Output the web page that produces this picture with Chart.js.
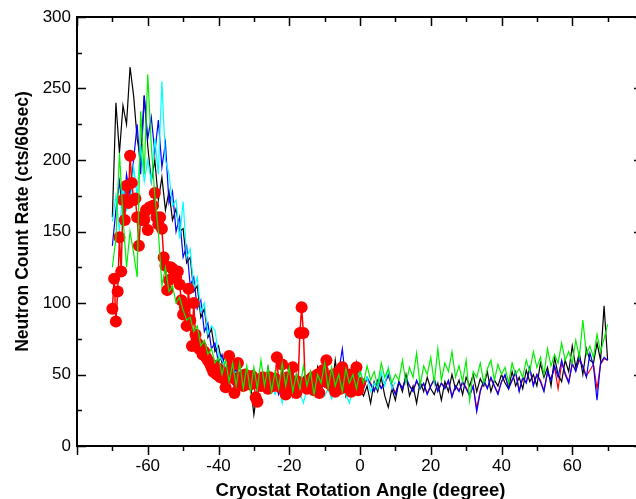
<!DOCTYPE html>
<html>
<head>
<meta charset="utf-8">
<script src="https://cdn.jsdelivr.net/npm/chart.js@4.4.1/dist/chart.umd.min.js"></script>
<style>
  html, body { margin: 0; padding: 0; background: #fff; overflow: hidden; }
  canvas { display: block; }
</style>
</head>
<body>
<canvas id="scan" width="660" height="499"></canvas>
<script>
// Angle grids (degree)
const angles = Array.from({ length: 141 }, (_, i) => i - 70);      // -70 .. 70
const cyanAngles = angles.slice(0, 81);                             // -70 .. 10
const redAngles = Array.from({ length: 141 }, (_, i) => -70 + i * 0.5); // -70 .. 0
const redTailAngles = angles.slice(71);                             // 1 .. 70

const xTicks = [-60, -40, -20, 0, 20, 40, 60];
const yTicks = [0, 50, 100, 150, 200, 250, 300];

// Count rates (cts/60sec)
const blackCounts = [
  160, 240, 205, 238, 225, 265, 245, 215, 200, 245,
  210, 185, 200, 172, 188, 165, 178, 158, 166, 150,
  152, 128, 132, 108, 112, 90, 96, 76, 82, 66,
  70, 58, 64, 54, 60, 48, 56, 46, 52, 44,
  22, 40, 45, 38, 55, 42, 48, 38, 52, 40,
  47, 35, 50, 42, 48, 38, 45, 40, 55, 42,
  50, 45, 38, 60, 42, 50, 35, 45, 40, 58,
  40, 35, 42, 30, 45, 38, 48, 35, 27, 40,
  32, 45, 38, 50, 35, 42, 30, 45, 38, 48,
  40, 36, 44, 32, 45, 38, 50, 40, 46, 36,
  48, 42, 50, 38, 47, 42, 52, 38, 46, 42,
  50, 44, 40, 52, 42, 48, 40, 53, 45, 50,
  42, 58, 48, 55, 42, 62, 50, 45, 60, 52,
  70, 55, 65, 50, 68, 60, 58, 72, 60, 98,
  60
];

const blueCounts = [
  140, 165, 185, 160, 190, 175, 200, 225, 190, 245,
  215, 230, 205, 228, 195, 212, 170, 178, 150, 160,
  132, 140, 112, 118, 96, 102, 80, 86, 68, 72,
  58, 64, 52, 58, 48, 54, 44, 50, 42, 48,
  45, 40, 47, 38, 44, 40, 46, 36, 42, 48,
  38, 44, 40, 46, 38, 43, 50, 40, 45, 38,
  47, 42, 50, 44, 52, 68, 45, 50, 42, 48,
  45, 40, 48, 43, 38, 46, 40, 44, 50, 42,
  36, 45, 40, 48, 42, 38, 46, 40, 44, 36,
  42, 47, 38, 44, 40, 46, 34, 42, 38, 45,
  40, 35, 42, 24, 38, 46, 40, 48, 42, 36,
  45, 50, 40, 46, 52, 38, 48, 44, 55, 42,
  50, 45, 38, 52, 46, 56, 48, 60, 50, 44,
  58, 52, 62, 55, 48, 65, 56, 32, 58, 62,
  60
];

const cyanCounts = [
  157, 175, 150, 180, 165, 170, 195, 175, 210, 185,
  200, 185, 215, 190, 255, 200, 190, 168, 172, 145,
  171, 132, 138, 110, 118, 94, 100, 78, 84, 81,
  64, 60, 55, 58, 50, 52, 46, 50, 44, 48,
  42, 46, 40, 44, 38, 42, 36, 44, 30, 40,
  45, 35, 42, 38, 30, 40, 36, 44, 38, 42,
  35, 40, 33, 44, 38, 42, 36, 30, 40, 46,
  55, 42, 48, 38, 44, 40, 52, 42, 55, 40, 45
];

const greenCounts = [
  125, 145, 205, 160, 125, 150, 135, 118, 234, 190,
  260, 210, 175, 150, 112, 125, 108, 112, 100, 104,
  95, 88, 90, 80, 84, 70, 74, 64, 68, 58,
  62, 50, 60, 45, 58, 42, 58, 40, 56, 38,
  55, 40, 60, 42, 55, 38, 52, 40, 58, 42,
  55, 38, 50, 40, 56, 42, 52, 36, 50, 44,
  58, 40, 55, 42, 50, 38, 54, 44, 50, 40,
  52, 44, 56, 46, 52, 42, 58, 48, 54, 44,
  50, 46, 60, 44, 55, 48, 65, 42, 56, 50,
  62, 44, 68, 46, 58, 52, 66, 48, 56, 45,
  60, 32, 52, 48, 58, 44, 54, 60, 46, 57,
  50, 55, 44, 58, 50, 54, 48, 60, 52, 66,
  55, 62, 50, 68, 56, 64, 58, 72, 60, 66,
  58, 74, 62, 88, 64, 70, 62, 78, 66, 75,
  85
];

const redCounts = [
  96, 117, 87, 108, 146, 122, 172, 158, 182, 170,
  203, 184, 172, 173, 160, 140, 160, 158, 158, 165,
  151, 167, 166, 168, 177, 160, 155, 160, 152, 132,
  126, 109, 116, 125, 124, 119, 118, 122, 113, 102,
  92, 97, 84, 110, 88, 70, 100, 78, 72, 68,
  70, 64, 66, 62, 60, 58, 55, 52, 56, 50,
  54, 48, 52, 47, 41, 50, 63, 48, 57, 37,
  46, 58, 44, 48, 42, 50, 45, 47, 43, 49,
  44, 34, 31, 46, 42, 48, 44, 46, 40, 48,
  44, 42, 47, 62, 45, 41, 57, 44, 36, 48,
  42, 46, 55, 40, 37, 45, 79, 97, 79, 44,
  40, 46, 42, 48, 39, 44, 50, 37, 45, 53,
  48, 60, 44, 46, 42, 50, 38, 45, 52, 40,
  55, 41, 47, 43, 50, 38, 46, 42, 55, 39,
  44
];

const redTailCounts = [
  41, 47, 44, 39, 45, 41, 44, 49, 43, 37,
  44, 41, 47, 42, 39, 45, 41, 43, 37, 42,
  46, 39, 44, 41, 45, 35, 42, 39, 44, 41,
  36, 42, 26, 39, 45, 41, 47, 42, 37, 45,
  49, 41, 46, 51, 39, 47, 45, 54, 43, 50,
  46, 39, 51, 47, 55, 40, 58, 51, 45, 57,
  53, 60, 56, 49, 53, 57, 40, 57, 61, 60
];

const toPoints = (xs, ys) => xs.map((x, i) => ({ x: x, y: ys[i] }));

const FONT = '"Liberation Sans", Arial, Helvetica, sans-serif';
Chart.defaults.font.family = FONT;
Chart.defaults.color = '#000';

function lineSet(data, color, order, width) {
  return {
    data: data,
    borderColor: color,
    borderWidth: width || 1.2,
    pointRadius: 0,
    tension: 0,
    fill: false,
    order: order
  };
}

// Box, inward/outward tick marks and axis titles
const framePlugin = {
  id: 'frame',
  afterDatasetsDraw(chart) {
    const { ctx, chartArea: a, scales: { x, y } } = chart;
    ctx.save();
    ctx.strokeStyle = '#000';
    ctx.lineWidth = 2;
    ctx.strokeRect(a.left, a.top, a.right - a.left, a.bottom - a.top);
    ctx.lineWidth = 1.5;
    ctx.beginPath();
    for (let v = -80; v <= 80; v += 10) {
      const px = Math.round(x.getPixelForValue(v)) + 0.5;
      const len = v % 20 === 0 ? 9 : 5;
      ctx.moveTo(px, a.bottom); ctx.lineTo(px, a.bottom + len);
      ctx.moveTo(px, a.top); ctx.lineTo(px, a.top + len);
    }
    for (let v = 0; v <= 300; v += 25) {
      const py = Math.round(y.getPixelForValue(v)) + 0.5;
      const len = v % 50 === 0 ? 9 : 5;
      ctx.moveTo(a.left, py); ctx.lineTo(a.left + len, py);
      ctx.moveTo(a.right, py); ctx.lineTo(a.right - len, py);
    }
    ctx.stroke();

    ctx.fillStyle = '#000';
    ctx.textAlign = 'center';
    ctx.textBaseline = 'alphabetic';
    ctx.font = 'bold 18.5px ' + FONT;
    ctx.fillText('Cryostat Rotation Angle (degree)', 360.5, 495.5);
    ctx.translate(28, 221.5);
    ctx.rotate(-Math.PI / 2);
    ctx.font = 'bold 17.5px ' + FONT;
    ctx.fillText('Neutron Count Rate (cts/60sec)', 0, 0);
    ctx.restore();
  }
};

new Chart(document.getElementById('scan'), {
  type: 'line',
  data: {
    datasets: [
      lineSet(toPoints(redTailAngles, redTailCounts), '#ff0000', 5),
      lineSet(toPoints(angles, blackCounts), '#000000', 4),
      lineSet(toPoints(angles, blueCounts), '#0000ff', 3),
      lineSet(toPoints(cyanAngles, cyanCounts), '#00ffff', 2),
      {
        data: toPoints(redAngles, redCounts),
        borderColor: '#ff0000',
        borderWidth: 1.5,
        pointRadius: 6,
        pointBorderWidth: 0,
        pointBackgroundColor: '#ff0000',
        pointBorderColor: '#ff0000',
        tension: 0,
        fill: false,
        order: 1
      },
      lineSet(toPoints(angles, greenCounts), '#00ee00', 0)
    ]
  },
  options: {
    responsive: false,
    animation: false,
    events: [],
    layout: { padding: { top: 17, right: 17, left: 0, bottom: 0 } },
    plugins: { legend: { display: false }, tooltip: { enabled: false } },
    scales: {
      x: {
        type: 'linear',
        min: -80,
        max: 80,
        afterFit: s => { s.height = 53; },
        afterBuildTicks: s => { s.ticks = xTicks.map(v => ({ value: v })); },
        grid: { display: false, drawTicks: false },
        border: { display: false },
        ticks: {
          font: { size: 17 },
          padding: 10,
          maxRotation: 0,
          autoSkip: false
        }
      },
      y: {
        min: 0,
        max: 300,
        afterFit: s => { s.width = 77; },
        afterBuildTicks: s => { s.ticks = yTicks.map(v => ({ value: v })); },
        grid: { display: false, drawTicks: false },
        border: { display: false },
        ticks: {
          font: { size: 17 },
          padding: 6
        }
      }
    }
  },
  plugins: [framePlugin]
});
</script>
</body>
</html>
